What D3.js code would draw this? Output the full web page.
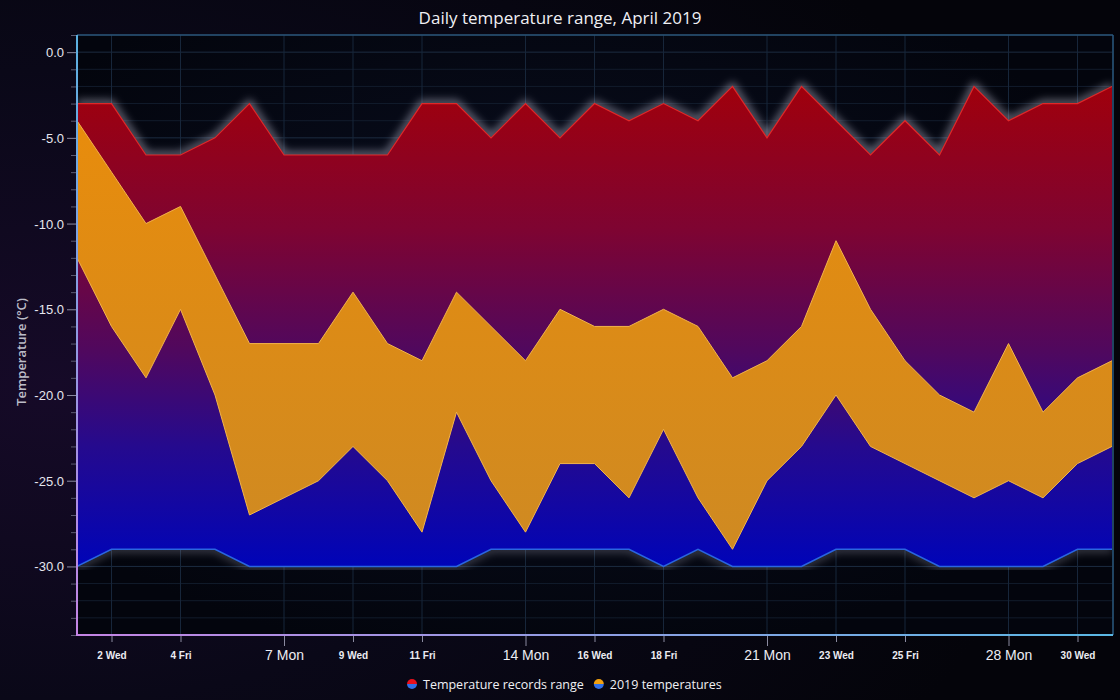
<!DOCTYPE html>
<html><head><meta charset="utf-8">
<script src="https://cdn.jsdelivr.net/npm/d3@7/dist/d3.min.js"></script>
<style>
html,body{margin:0;padding:0;background:#06050e;overflow:hidden;}
svg{display:block;font-family:"Segoe UI","Open Sans","Noto Sans",sans-serif;}
</style></head><body>
<svg id="chart" width="1120" height="700"></svg>
<script>
// ---- data ----
const days = d3.range(1, 32); // April 1 .. May 1
const recordHigh = [-3,-3,-6,-6,-5,-3,-6,-6,-6,-6,-3,-3,-5,-3,-5,-3,-4,-3,-4,-2,-5,-2,-4,-6,-4,-6,-2,-4,-3,-3,-2];
const recordLow  = [-30,-29,-29,-29,-29,-30,-30,-30,-30,-30,-30,-30,-29,-29,-29,-29,-29,-30,-29,-30,-30,-30,-29,-29,-29,-30,-30,-30,-30,-29,-29];
const high2019   = [-4,-7,-10,-9,-13,-17,-17,-17,-14,-17,-18,-14,-16,-18,-15,-16,-16,-15,-16,-19,-18,-16,-11,-15,-18,-20,-21,-17,-21,-19,-18];
const low2019    = [-12,-16,-19,-15,-20,-27,-26,-25,-23,-25,-28,-21,-25,-28,-24,-24,-26,-22,-26,-29,-25,-23,-20,-23,-24,-25,-26,-25,-26,-24,-23];
const xTickDays   = [2,4,7,9,11,14,16,18,21,23,25,28,30];
const xTickLabels = ["2 Wed","4 Fri","7 Mon","9 Wed","11 Fri","14 Mon","16 Wed","18 Fri","21 Mon","23 Wed","25 Fri","28 Mon","30 Wed"];
const majorDays   = [7,14,21,28];
const yTicks      = [0,-5,-10,-15,-20,-25,-30];
const yTickLabels = ["0.0","-5.0","-10.0","-15.0","-20.0","-25.0","-30.0"];
const legendItems = [
  {label:"Temperature records range", top:"#e8101c", bottom:"#2f6fe8"},
  {label:"2019 temperatures", top:"#f0a010", bottom:"#2f6fe8"}
];
const title = "Daily temperature range, April 2019";
const yTitle = "Temperature (°C)";

// ---- layout ----
const W = 1120, H = 700;
const L = 77, R = 1112, T = 35, B = 635;
const svg = d3.select("#chart");
const defs = svg.append("defs");

const x = d3.scaleUtc()
  .domain([new Date(Date.UTC(2019,3,1)), new Date(Date.UTC(2019,4,1))])
  .range([L, R]);
const dayDate = d => new Date(Date.UTC(2019,3,d));
const y = d3.scaleLinear().domain([1, -34]).range([T, B]);

// background
const bg = defs.append("radialGradient").attr("id","bg").attr("cx","0.05").attr("cy","0.55").attr("r","0.9");
bg.append("stop").attr("offset","0").attr("stop-color","#160a28");
bg.append("stop").attr("offset","0.5").attr("stop-color","#0a0818");
bg.append("stop").attr("offset","1").attr("stop-color","#04040a");
svg.append("rect").attr("width",W).attr("height",H).attr("fill","url(#bg)");

// plot background
const pbg = defs.append("radialGradient").attr("id","pbg").attr("cx","0.45").attr("cy","0.45").attr("r","0.6");
pbg.append("stop").attr("offset","0").attr("stop-color","#0a0f22");
pbg.append("stop").attr("offset","1").attr("stop-color","#03050d");
svg.append("rect").attr("x",L).attr("y",T).attr("width",R-L).attr("height",B-T).attr("fill","url(#pbg)");

// gradients for areas
const rg = defs.append("linearGradient").attr("id","recGrad").attr("gradientUnits","userSpaceOnUse")
  .attr("x1",0).attr("x2",0).attr("y1",y(-2)).attr("y2",y(-30));
[["0","#a0000c"],["0.3","#7e0432"],["0.55","#50085e"],["0.75","#250a8e"],["1","#0004b8"]].forEach(s=>
  rg.append("stop").attr("offset",s[0]).attr("stop-color",s[1]));
const og = defs.append("linearGradient").attr("id","oGrad").attr("gradientUnits","userSpaceOnUse")
  .attr("x1",0).attr("x2",0).attr("y1",y(-4)).attr("y2",y(-29));
og.append("stop").attr("offset","0").attr("stop-color","#e88c0c");
og.append("stop").attr("offset","1").attr("stop-color","#cf8a22");

// glow filter
const gf = defs.append("filter").attr("id","glow").attr("x","-5%").attr("y","-20%").attr("width","110%").attr("height","140%");
gf.append("feGaussianBlur").attr("stdDeviation",4);

// frame gradients
const lg = defs.append("linearGradient").attr("id","leftGrad").attr("gradientUnits","userSpaceOnUse")
  .attr("x1",0).attr("x2",0).attr("y1",T).attr("y2",B);
lg.append("stop").attr("offset","0").attr("stop-color","#5ab0e0");
lg.append("stop").attr("offset","1").attr("stop-color","#c484e4");
const bgr = defs.append("linearGradient").attr("id","botGrad").attr("gradientUnits","userSpaceOnUse")
  .attr("x1",L).attr("x2",R).attr("y1",0).attr("y2",0);
bgr.append("stop").attr("offset","0").attr("stop-color","#c484e4");
bgr.append("stop").attr("offset","1").attr("stop-color","#5ab8e4");

// grid
const grid = svg.append("g");
d3.range(1, -35, -1).forEach(v => {
  grid.append("line").attr("x1",L).attr("x2",R).attr("y1",y(v)).attr("y2",y(v))
    .attr("stroke", v % 5 === 0 ? "#1c2c40" : "#121c2c").attr("stroke-width",1);
});
xTickDays.forEach(d => {
  grid.append("line").attr("x1",x(dayDate(d))).attr("x2",x(dayDate(d))).attr("y1",T).attr("y2",B)
    .attr("stroke","#17263a").attr("stroke-width",1);
});

const data = days.map((d,i)=>({date:dayDate(d), rh:recordHigh[i], rl:recordLow[i], h:high2019[i], l:low2019[i]}));

const recArea = d3.area().x(d=>x(d.date)).y0(d=>y(d.rl)).y1(d=>y(d.rh));
const oArea = d3.area().x(d=>x(d.date)).y0(d=>y(d.l)).y1(d=>y(d.h));
const lineRH = d3.line().x(d=>x(d.date)).y(d=>y(d.rh));
const lineRL = d3.line().x(d=>x(d.date)).y(d=>y(d.rl));
const lineH = d3.line().x(d=>x(d.date)).y(d=>y(d.h));
const lineL = d3.line().x(d=>x(d.date)).y(d=>y(d.l));

const plot = svg.append("g");
plot.append("clipPath").attr("id","clip").append("rect").attr("x",L).attr("y",T).attr("width",R-L).attr("height",B-T);
plot.attr("clip-path","url(#clip)");

// glows
plot.append("path").datum(data).attr("d",lineRH).attr("fill","none").attr("stroke","#c8c8dc").attr("stroke-opacity",0.6).attr("stroke-width",6).attr("filter","url(#glow)");
plot.append("path").datum(data).attr("d",lineRL).attr("fill","none").attr("stroke","#c8c8dc").attr("stroke-opacity",0.4).attr("stroke-width",5).attr("filter","url(#glow)");

plot.append("path").datum(data).attr("d",recArea).attr("fill","url(#recGrad)");
plot.append("path").datum(data).attr("d",lineRH).attr("fill","none").attr("stroke","#e02828").attr("stroke-width",1.2);
plot.append("path").datum(data).attr("d",lineRL).attr("fill","none").attr("stroke","#2a66e0").attr("stroke-width",1.5);

plot.append("path").datum(data).attr("d",oArea).attr("fill","url(#oGrad)");
plot.append("path").datum(data).attr("d",lineH).attr("fill","none").attr("stroke","#f2b44a").attr("stroke-width",1);
plot.append("path").datum(data).attr("d",lineL).attr("fill","none").attr("stroke","#f2b44a").attr("stroke-width",1);

// frame
svg.append("line").attr("x1",L).attr("x2",R+1).attr("y1",T).attr("y2",T).attr("stroke","#2a5478").attr("stroke-width",1.5);
svg.append("line").attr("x1",R+1).attr("x2",R+1).attr("y1",T).attr("y2",B).attr("stroke","#2a5a80").attr("stroke-width",1.5);
svg.append("line").attr("x1",L).attr("x2",L).attr("y1",T).attr("y2",B+1).attr("stroke","url(#leftGrad)").attr("stroke-width",2);
svg.append("line").attr("x1",L).attr("x2",R+1).attr("y1",B).attr("y2",B).attr("stroke","url(#botGrad)").attr("stroke-width",2);

// y axis
const yAxisG = svg.append("g").attr("transform",`translate(${L-1},0)`);
const yAxis = d3.axisLeft(y).tickValues(yTicks).tickSize(9).tickPadding(3)
  .tickFormat((d,i)=>yTickLabels[i]);
yAxisG.call(yAxis);
yAxisG.select(".domain").remove();
yAxisG.selectAll(".tick line").attr("stroke","#8a8aa0");
yAxisG.selectAll(".tick text").attr("fill","#e6e6ee").attr("font-size",13).attr("dy","0.35em");
const yMinor = svg.append("g").attr("transform",`translate(${L-1},0)`);
yMinor.call(d3.axisLeft(y).tickValues(d3.range(1,-35,-1).filter(v=>v%5!==0)).tickSize(5).tickFormat(""));
yMinor.select(".domain").remove();
yMinor.selectAll(".tick line").attr("stroke","#5a5a70");

// x axis
const xAxisG = svg.append("g").attr("transform",`translate(0,${B+1})`);
xAxisG.call(d3.axisBottom(x).tickValues(xTickDays.map(dayDate)).tickSize(6).tickPadding(10)
  .tickFormat((d,i)=>xTickLabels[i]));
xAxisG.select(".domain").remove();
xAxisG.selectAll(".tick line").attr("stroke","#8a8aa0")
  .attr("y2",(d,i)=>majorDays.includes(xTickDays[i]) ? 10 : 6);
xAxisG.selectAll(".tick text").attr("fill","#ececf2")
  .attr("font-size",(d,i)=>majorDays.includes(xTickDays[i]) ? 14 : 10)
  .attr("font-weight",(d,i)=>majorDays.includes(xTickDays[i]) ? 400 : 600)
  .attr("y",(d,i)=>majorDays.includes(xTickDays[i]) ? 14 : 16);

// titles
svg.append("text").attr("x",560).attr("y",24).attr("text-anchor","middle").attr("fill","#f0f0f4")
  .attr("font-size",17).text(title);
svg.append("text").attr("transform",`translate(26,${(T+B)/2 + 17}) rotate(-90)`).attr("text-anchor","middle")
  .attr("fill","#bcbcc8").attr("font-size",13).attr("font-weight",600).text(yTitle);

// legend
const leg = svg.append("g").attr("transform","translate(0,684)");
let lx = 412;
legendItems.forEach((it,i)=>{
  const g = leg.append("g").attr("transform",`translate(${lx},0)`);
  const arcTop = d3.arc()({innerRadius:0,outerRadius:5,startAngle:-Math.PI/2,endAngle:Math.PI/2});
  const arcBot = d3.arc()({innerRadius:0,outerRadius:5,startAngle:Math.PI/2,endAngle:Math.PI*1.5});
  g.append("path").attr("d",arcTop).attr("fill",it.top);
  g.append("path").attr("d",arcBot).attr("fill",it.bottom);
  const t = g.append("text").attr("x",11).attr("y",4.5).attr("fill","#f0f0f4").attr("font-size",12.5).text(it.label);
  lx += 11 + t.node().getComputedTextLength() + 15;
});
</script>
</body></html>
